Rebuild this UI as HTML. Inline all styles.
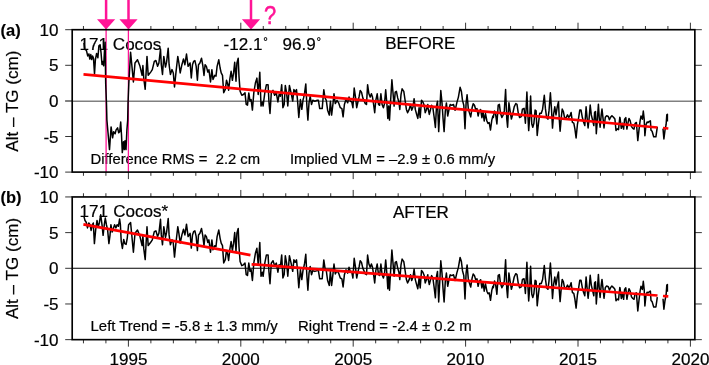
<!DOCTYPE html>
<html><head><meta charset="utf-8"><title>Alt - TG</title>
<style>html,body{margin:0;padding:0;background:#fff;}svg{display:block;will-change:transform}</style></head>
<body>
<svg width="709" height="365" viewBox="0 0 709 365" font-family='"Liberation Sans", sans-serif'>
<rect width="709" height="365" fill="#fff"/>
<line x1="72.2" y1="101.20" x2="694.85" y2="101.20" stroke="#808080" stroke-width="1.6"/>
<line x1="72.2" y1="268.25" x2="694.85" y2="268.25" stroke="#000" stroke-width="1.0"/>
<text transform="translate(79.4,50.1) scale(1.035,1)" font-size="16.5" text-anchor="start" font-weight="normal" fill="#000" stroke="#000" stroke-width="0.2" xml:space="preserve">171</text>
<text transform="translate(112.8,50.1) scale(1.035,1)" font-size="16.5" text-anchor="start" font-weight="normal" fill="#000" stroke="#000" stroke-width="0.2" xml:space="preserve">Cocos</text>
<text transform="translate(223.5,50.1) scale(1.035,1)" font-size="16.5" text-anchor="start" font-weight="normal" fill="#000" stroke="#000" stroke-width="0.2" xml:space="preserve">-12.1<tspan font-size="11" dx="0.8" dy="-5.2">°</tspan></text>
<text transform="translate(282.5,50.1) scale(1.035,1)" font-size="16.5" text-anchor="start" font-weight="normal" fill="#000" stroke="#000" stroke-width="0.2" xml:space="preserve">96.9<tspan font-size="11" dx="0.8" dy="-5.2">°</tspan></text>
<text transform="translate(385.2,49.3) scale(1.035,1)" font-size="16.5" text-anchor="start" font-weight="normal" fill="#000" stroke="#000" stroke-width="0.2" xml:space="preserve">BEFORE</text>
<text transform="translate(90.5,163.7) scale(1.007,1)" font-size="14.7" text-anchor="start" font-weight="normal" fill="#000" stroke="#000" stroke-width="0.2" xml:space="preserve">Difference RMS =  2.2 cm</text>
<text transform="translate(289.9,163.6) scale(1.007,1)" font-size="14.7" text-anchor="start" font-weight="normal" fill="#000" stroke="#000" stroke-width="0.2" xml:space="preserve">Implied VLM = –2.9 ± 0.6 mm/y</text>
<text transform="translate(79.4,217.4) scale(1.035,1)" font-size="16.5" text-anchor="start" font-weight="normal" fill="#000" stroke="#000" stroke-width="0.2" xml:space="preserve">171</text>
<text transform="translate(113.2,217.4) scale(1.035,1)" font-size="16.5" text-anchor="start" font-weight="normal" fill="#000" stroke="#000" stroke-width="0.2" xml:space="preserve">Cocos*</text>
<text transform="translate(392.9,217.55) scale(1.035,1)" font-size="16.5" text-anchor="start" font-weight="normal" fill="#000" stroke="#000" stroke-width="0.2" xml:space="preserve">AFTER</text>
<text transform="translate(90.6,331.0) scale(1.013,1)" font-size="14.7" text-anchor="start" font-weight="normal" fill="#000" stroke="#000" stroke-width="0.2" xml:space="preserve">Left Trend = -5.8 ± 1.3 mm/y</text>
<text transform="translate(298.1,331.0) scale(1.016,1)" font-size="14.7" text-anchor="start" font-weight="normal" fill="#000" stroke="#000" stroke-width="0.2" xml:space="preserve">Right Trend = -2.4 ± 0.2 m</text>
<line x1="106.1" y1="29.7" x2="106.1" y2="172.1" stroke="#ff1496" stroke-width="1.3"/>
<line x1="128.4" y1="29.7" x2="128.4" y2="172.1" stroke="#ff1496" stroke-width="1.3"/>
<path d="M84.0,42.8 L84.8,49.4 L86.4,50.3 L87.7,55.9 L88.9,54.0 L89.8,59.0 L90.8,54.6 L91.7,59.6 L92.6,55.9 L93.5,58.3 L94.5,73.9 L95.4,59.6 L96.6,53.4 L97.9,57.7 L98.9,45.9 L100.1,44.7 L101.1,53.4 L102.0,64.5 L102.8,61.4 L103.7,65.8 L104.6,48.4 L105.1,42.2 L105.7,84.0 L106.5,104.0 L106.9,120.0 L109.5,149.6 L111.1,126.9 L112.6,137.8 L113.6,131.8 L115.1,133.8 L116.1,129.9 L117.6,127.9 L118.7,132.8 L119.7,131.8 L120.7,122.0 L121.5,134.8 L122.3,152.6 L123.5,141.7 L124.3,149.6 L125.0,140.7 L126.0,149.6 L126.9,129.9 L127.7,120.0 L128.0,104.0 L128.8,84.0 L130.6,52.3 L133.4,81.9 L135.0,63.0 L137.5,59.7 L140.0,66.3 L142.1,75.3 L142.9,65.5 L143.8,78.6 L145.2,89.3 L147.0,56.4 L148.2,75.3 L150.7,72.1 L152.3,69.6 L154.3,61.4 L155.9,60.5 L157.6,66.3 L158.9,63.0 L160.5,49.0 L161.3,64.7 L162.5,74.5 L163.8,56.4 L165.5,67.1 L166.6,62.2 L168.2,48.2 L169.1,64.7 L170.4,74.5 L172.0,69.6 L173.3,72.9 L174.5,86.9 L176.1,71.2 L177.8,56.4 L178.9,63.0 L180.2,72.9 L181.9,64.7 L183.5,58.9 L184.9,64.7 L186.5,54.0 L188.1,66.3 L190.1,63.0 L191.3,77.9 L192.5,64.7 L193.6,61.4 L194.9,60.6 L196.2,66.4 L197.4,80.3 L198.5,64.7 L199.9,63.1 L201.5,58.2 L202.8,65.5 L204.0,75.4 L205.1,64.7 L206.4,66.4 L207.8,72.1 L208.9,69.7 L210.5,82.0 L211.9,69.7 L213.0,79.5 L214.7,75.4 L216.0,76.2 L217.1,66.4 L218.8,59.8 L220.1,68.0 L221.2,72.9 L222.5,75.4 L223.7,92.7 L225.3,89.4 L226.5,80.3 L227.8,84.5 L228.6,90.2 L229.9,78.7 L231.1,71.3 L232.4,80.3 L233.6,72.9 L234.7,62.3 L236.0,81.2 L236.9,63.1 L238.2,58.2 L239.0,76.4 L240.1,91.2 L241.8,95.3 L243.4,94.5 L245.0,92.9 L246.2,104.4 L247.5,105.2 L248.8,92.9 L250.0,101.1 L251.1,99.5 L252.4,110.1 L253.8,92.9 L255.4,83.0 L256.9,78.1 L258.2,94.5 L259.8,72.3 L261.0,106.0 L262.3,101.9 L263.1,106.0 L264.8,92.9 L266.4,84.7 L268.1,84.7 L268.9,101.1 L270.0,113.4 L271.3,92.9 L273.0,90.4 L274.6,95.3 L276.3,92.9 L277.9,101.9 L279.1,94.5 L280.4,96.2 L281.7,84.7 L282.9,107.7 L284.2,104.4 L285.3,85.5 L286.6,92.9 L287.8,106.0 L289.4,85.5 L291.1,92.9 L292.7,101.1 L293.9,89.6 L295.2,92.1 L296.5,89.6 L297.6,101.1 L298.8,117.5 L300.4,99.5 L301.8,109.3 L303.1,99.5 L303.6,97.9 L304.6,92.9 L305.8,83.9 L306.9,106.1 L307.9,120.1 L309.0,102.8 L310.2,96.2 L311.5,104.5 L312.8,100.3 L314.8,101.2 L317.3,100.3 L318.4,100.3 L319.7,108.6 L322.2,108.6 L323.8,89.7 L325.0,97.9 L326.3,100.3 L327.6,110.2 L329.3,115.1 L330.4,101.2 L331.6,115.1 L332.9,104.5 L334.0,93.8 L335.3,103.6 L337.0,100.3 L338.6,102.8 L340.3,107.7 L341.9,108.6 L343.1,116.8 L344.4,104.5 L346.0,99.5 L347.7,102.8 L349.0,97.1 L350.3,101.2 L351.8,102.0 L352.9,107.7 L354.2,88.0 L355.6,97.9 L356.7,107.7 L357.9,102.0 L359.2,96.2 L360.2,90.5 L361.5,92.1 L362.8,97.9 L365.3,103.6 L366.5,104.5 L367.6,84.7 L368.9,93.8 L370.2,97.1 L371.4,93.8 L372.5,97.1 L373.5,103.6 L374.7,112.7 L375.8,100.3 L377.2,93.8 L378.5,104.5 L379.6,105.3 L380.9,93.8 L382.1,104.5 L383.4,107.7 L384.5,103.6 L385.7,89.7 L387.0,105.3 L387.8,118.4 L388.7,106.1 L389.5,120.1 L390.6,101.2 L391.9,79.8 L393.3,96.2 L394.1,106.1 L395.2,92.1 L396.4,91.3 L397.7,97.9 L398.9,102.0 L399.8,109.4 L401.0,94.6 L402.1,88.8 L403.8,91.3 L405.1,100.3 L406.4,109.4 L407.6,112.7 L409.2,109.4 L410.5,104.5 L411.7,110.2 L413.0,106.9 L414.1,98.7 L415.3,109.4 L416.6,114.3 L417.8,118.4 L419.1,107.7 L420.2,117.6 L421.5,100.3 L422.9,102.0 L424.2,105.3 L425.2,112.7 L426.5,109.4 L427.8,104.5 L428.0,107.8 L429.3,114.4 L430.5,109.5 L431.6,105.3 L432.9,107.8 L434.2,117.7 L435.4,127.5 L436.5,106.2 L437.5,101.2 L438.7,131.6 L439.8,111.1 L440.8,90.5 L442.0,102.9 L443.1,119.3 L444.1,131.6 L445.3,111.1 L446.4,102.9 L447.7,116.0 L449.0,109.5 L450.2,104.5 L451.8,105.3 L453.5,104.5 L455.1,110.3 L456.8,102.9 L458.4,97.1 L460.1,87.3 L461.4,91.4 L462.5,100.4 L463.8,105.3 L465.0,128.7 L466.1,102.9 L467.1,94.7 L468.3,108.6 L469.4,112.7 L470.7,116.9 L472.1,107.8 L473.2,103.7 L474.5,105.3 L475.7,109.5 L477.0,108.6 L478.1,116.0 L479.3,111.1 L480.6,109.5 L481.9,117.7 L483.1,111.9 L484.2,121.0 L485.5,113.6 L486.9,121.0 L488.0,123.4 L489.2,122.6 L490.5,130.0 L491.8,120.1 L492.9,116.0 L493.3,117.5 L494.5,110.9 L495.6,114.2 L496.9,124.0 L498.2,105.1 L499.4,104.3 L500.5,113.3 L501.9,117.5 L503.2,115.0 L504.3,110.9 L505.6,89.5 L506.8,119.1 L507.6,127.3 L508.9,102.7 L510.1,110.9 L511.4,119.1 L512.5,115.0 L514.2,106.8 L515.8,103.5 L517.0,104.3 L518.3,113.3 L519.6,117.5 L521.3,116.6 L522.4,109.2 L524.1,108.4 L525.4,123.2 L526.9,92.0 L527.8,113.3 L528.7,130.6 L529.8,115.8 L530.6,96.1 L531.8,124.0 L532.8,127.3 L533.9,123.2 L535.1,110.1 L536.1,110.9 L537.2,135.5 L538.4,124.0 L539.7,113.3 L541.3,113.3 L542.6,109.2 L544.3,95.3 L545.4,108.4 L546.6,117.5 L547.9,119.1 L549.0,110.9 L550.4,92.8 L551.5,109.2 L552.5,128.1 L553.6,114.2 L554.8,106.8 L556.0,114.9 L557.3,106.7 L558.5,101.7 L559.3,119.8 L560.1,131.3 L561.3,117.3 L562.2,109.1 L563.4,111.6 L564.5,117.3 L565.9,118.2 L567.5,114.9 L568.8,117.3 L570.0,115.7 L571.1,112.4 L572.4,122.3 L573.8,123.1 L574.9,128.9 L576.1,137.9 L577.4,124.7 L578.7,117.3 L579.8,109.9 L581.0,109.9 L582.3,117.3 L583.6,122.3 L584.8,125.6 L586.1,106.7 L587.2,119.0 L588.1,128.0 L589.2,117.3 L590.2,105.0 L591.3,114.9 L592.5,119.8 L593.8,125.6 L594.6,112.4 L595.5,111.6 L596.3,133.8 L597.1,123.1 L598.4,104.2 L599.2,117.3 L600.1,127.2 L601.2,114.9 L602.0,109.1 L603.2,119.8 L604.0,128.0 L605.3,117.3 L606.6,115.7 L608.3,116.5 L609.4,119.8 L610.6,117.3 L611.9,115.7 L613.5,117.3 L614.9,119.0 L616.0,130.5 L617.2,128.9 L618.5,129.7 L619.8,117.3 L620.0,117.6 L621.3,128.3 L622.5,123.3 L623.6,129.1 L624.6,119.2 L625.8,117.6 L626.9,129.1 L627.9,123.3 L629.0,118.4 L630.2,120.9 L631.5,126.6 L632.8,128.3 L634.0,129.1 L635.1,123.3 L636.4,122.5 L637.8,140.6 L638.9,130.7 L640.1,120.9 L641.0,115.9 L642.4,119.2 L643.3,111.0 L644.2,119.2 L644.9,135.7 L646.0,124.7 L647.1,122.0 L648.2,122.5 L649.3,121.4 L650.4,120.9 L651.0,130.2 L652.1,131.3 L653.7,136.8 L655.9,136.8 L657.0,129.1 L657.3,126.9" fill="none" stroke="#000" stroke-width="1.5" stroke-linejoin="round"/>
<path d="M663.0,128.6 L663.9,139.0 L665.0,130.2 L666.1,124.7 L666.8,114.9 L667.4,114.3 L667.4,121.4" fill="none" stroke="#000" stroke-width="1.5" stroke-linejoin="round"/>
<path d="M83.9,216.4 L85.0,220.5 L86.2,222.2 L87.5,227.9 L88.8,223.0 L90.0,224.7 L91.1,230.4 L92.4,224.7 L93.3,223.0 L94.4,243.6 L95.7,229.6 L97.0,220.5 L98.2,227.1 L99.3,223.0 L100.7,214.8 L102.0,224.7 L103.1,235.3 L104.3,224.7 L105.3,218.1 L106.4,224.7 L107.6,229.6 L108.9,243.6 L110.0,235.3 L110.9,224.7 L112.2,232.1 L113.5,227.9 L114.6,224.7 L115.9,227.9 L117.1,224.7 L118.4,226.3 L119.6,218.9 L120.4,224.7 L121.2,241.1 L122.4,248.5 L123.7,239.5 L124.8,243.6 L126.1,244.4 L127.3,237.8 L128.6,224.7 L130.6,222.6 L133.4,252.2 L135.0,233.3 L137.5,230.0 L140.0,236.6 L142.1,245.6 L142.9,235.7 L143.8,248.9 L145.2,259.6 L147.0,226.7 L148.2,245.6 L150.7,242.3 L152.3,239.8 L154.3,231.6 L155.9,230.8 L157.6,236.6 L158.9,233.3 L160.5,219.3 L161.3,234.9 L162.5,244.8 L163.8,226.7 L165.5,237.4 L166.6,232.4 L168.2,218.5 L169.1,234.9 L170.4,244.8 L172.0,239.8 L173.3,243.1 L174.5,257.1 L176.1,241.5 L177.8,226.7 L178.9,233.3 L180.2,243.1 L181.9,234.9 L183.5,229.2 L184.9,234.9 L186.5,224.2 L188.1,236.6 L190.1,233.3 L191.3,248.1 L192.5,235.0 L193.6,231.7 L194.9,230.9 L196.2,236.6 L197.4,250.6 L198.5,235.0 L199.9,233.3 L201.5,228.4 L202.8,235.8 L204.0,245.7 L205.1,235.0 L206.4,236.6 L207.8,242.4 L208.9,239.9 L210.5,252.2 L211.9,239.9 L213.0,249.8 L214.7,245.7 L216.0,246.5 L217.1,236.6 L218.8,230.0 L220.1,238.3 L221.2,243.2 L222.5,245.7 L223.7,262.9 L225.3,259.6 L226.5,250.6 L227.8,254.7 L228.6,260.5 L229.9,249.0 L231.1,241.6 L232.4,250.6 L233.6,243.2 L234.7,232.5 L236.0,251.4 L236.9,233.3 L238.2,228.4 L239.0,246.7 L240.1,261.5 L241.8,265.6 L243.4,264.8 L245.0,263.1 L246.2,274.6 L247.5,275.5 L248.8,263.1 L250.0,271.3 L251.1,269.7 L252.4,280.4 L253.8,263.1 L255.4,253.3 L256.9,248.3 L258.2,264.8 L259.8,242.6 L261.0,276.3 L262.3,272.2 L263.1,276.3 L264.8,263.1 L266.4,254.9 L268.1,254.9 L268.9,271.3 L270.0,283.7 L271.3,263.1 L273.0,260.7 L274.6,265.6 L276.3,263.1 L277.9,272.2 L279.1,264.8 L280.4,266.4 L281.7,254.9 L282.9,277.9 L284.2,274.6 L285.3,255.7 L286.6,263.1 L287.8,276.3 L289.4,255.7 L291.1,263.1 L292.7,271.3 L293.9,259.8 L295.2,262.3 L296.5,259.8 L297.6,271.3 L298.8,287.8 L300.4,269.7 L301.8,279.6 L303.1,269.7 L303.6,268.1 L304.6,263.2 L305.8,254.2 L306.9,276.3 L307.9,290.3 L309.0,273.1 L310.2,266.5 L311.5,274.7 L312.8,270.6 L314.8,271.4 L317.3,270.6 L318.4,270.6 L319.7,278.8 L322.2,278.8 L323.8,259.9 L325.0,268.1 L326.3,270.6 L327.6,280.5 L329.3,285.4 L330.4,271.4 L331.6,285.4 L332.9,274.7 L334.0,264.0 L335.3,273.9 L337.0,270.6 L338.6,273.1 L340.3,278.0 L341.9,278.8 L343.1,287.0 L344.4,274.7 L346.0,269.8 L347.7,273.1 L349.0,267.3 L350.3,271.4 L351.8,272.2 L352.9,278.0 L354.2,258.3 L355.6,268.1 L356.7,278.0 L357.9,272.2 L359.2,266.5 L360.2,260.7 L361.5,262.4 L362.8,268.1 L365.3,273.9 L366.5,274.7 L367.6,255.0 L368.9,264.0 L370.2,267.3 L371.4,264.0 L372.5,267.3 L373.5,273.9 L374.7,282.9 L375.8,270.6 L377.2,264.0 L378.5,274.7 L379.6,275.5 L380.9,264.0 L382.1,274.7 L383.4,278.0 L384.5,273.9 L385.7,259.9 L387.0,275.5 L387.8,288.7 L388.7,276.3 L389.5,290.3 L390.6,271.4 L391.9,250.0 L393.3,266.5 L394.1,276.3 L395.2,262.4 L396.4,261.6 L397.7,268.1 L398.9,272.2 L399.8,279.6 L401.0,264.8 L402.1,259.1 L403.8,261.6 L405.1,270.6 L406.4,279.6 L407.6,282.9 L409.2,279.6 L410.5,274.7 L411.7,280.5 L413.0,277.2 L414.1,269.0 L415.3,279.6 L416.6,284.6 L417.8,288.7 L419.1,278.0 L420.2,287.9 L421.5,270.6 L422.9,272.2 L424.2,275.5 L425.2,282.9 L426.5,279.6 L427.8,274.7 L428.0,278.1 L429.3,284.6 L430.5,279.7 L431.6,275.6 L432.9,278.1 L434.2,287.9 L435.4,297.8 L436.5,276.4 L437.5,271.5 L438.7,301.9 L439.8,281.3 L440.8,260.8 L442.0,273.1 L443.1,289.6 L444.1,301.9 L445.3,281.3 L446.4,273.1 L447.7,286.3 L449.0,279.7 L450.2,274.8 L451.8,275.6 L453.5,274.8 L455.1,280.5 L456.8,273.1 L458.4,267.4 L460.1,257.5 L461.4,261.6 L462.5,270.7 L463.8,275.6 L465.0,298.9 L466.1,273.1 L467.1,264.9 L468.3,278.9 L469.4,283.0 L470.7,287.1 L472.1,278.1 L473.2,274.0 L474.5,275.6 L475.7,279.7 L477.0,278.9 L478.1,286.3 L479.3,281.3 L480.6,279.7 L481.9,287.9 L483.1,282.2 L484.2,291.2 L485.5,283.8 L486.9,291.2 L488.0,293.7 L489.2,292.9 L490.5,300.3 L491.8,290.4 L492.9,286.3 L493.3,287.7 L494.5,281.1 L495.6,284.4 L496.9,294.3 L498.2,275.4 L499.4,274.6 L500.5,283.6 L501.9,287.7 L503.2,285.2 L504.3,281.1 L505.6,259.8 L506.8,289.3 L507.6,297.6 L508.9,272.9 L510.1,281.1 L511.4,289.3 L512.5,285.2 L514.2,277.0 L515.8,273.7 L517.0,274.6 L518.3,283.6 L519.6,287.7 L521.3,286.9 L522.4,279.5 L524.1,278.7 L525.4,293.5 L526.9,262.2 L527.8,283.6 L528.7,300.9 L529.8,286.1 L530.6,266.3 L531.8,294.3 L532.8,297.6 L533.9,293.5 L535.1,280.3 L536.1,281.1 L537.2,305.8 L538.4,294.3 L539.7,283.6 L541.3,283.6 L542.6,279.5 L544.3,265.5 L545.4,278.7 L546.6,287.7 L547.9,289.3 L549.0,281.1 L550.4,263.0 L551.5,279.5 L552.5,298.4 L553.6,284.4 L554.8,277.0 L556.0,285.1 L557.3,276.9 L558.5,272.0 L559.3,290.1 L560.1,301.6 L561.3,287.6 L562.2,279.4 L563.4,281.8 L564.5,287.6 L565.9,288.4 L567.5,285.1 L568.8,287.6 L570.0,286.0 L571.1,282.7 L572.4,292.5 L573.8,293.3 L574.9,299.1 L576.1,308.1 L577.4,295.0 L578.7,287.6 L579.8,280.2 L581.0,280.2 L582.3,287.6 L583.6,292.5 L584.8,295.8 L586.1,276.9 L587.2,289.2 L588.1,298.3 L589.2,287.6 L590.2,275.3 L591.3,285.1 L592.5,290.1 L593.8,295.8 L594.6,282.7 L595.5,281.8 L596.3,304.0 L597.1,293.3 L598.4,274.4 L599.2,287.6 L600.1,297.5 L601.2,285.1 L602.0,279.4 L603.2,290.1 L604.0,298.3 L605.3,287.6 L606.6,286.0 L608.3,286.8 L609.4,290.1 L610.6,287.6 L611.9,286.0 L613.5,287.6 L614.9,289.2 L616.0,300.7 L617.2,299.1 L618.5,299.9 L619.8,287.6 L620.0,287.8 L621.3,298.5 L622.5,293.6 L623.6,299.3 L624.6,289.5 L625.8,287.8 L626.9,299.3 L627.9,293.6 L629.0,288.7 L630.2,291.1 L631.5,296.9 L632.8,298.5 L634.0,299.3 L635.1,293.6 L636.4,292.8 L637.8,310.9 L638.9,301.0 L640.1,291.1 L641.0,286.2 L642.4,289.5 L643.3,281.3 L644.2,289.5 L644.9,305.9 L646.0,295.0 L647.1,292.2 L648.2,292.8 L649.3,291.7 L650.4,291.1 L651.0,300.5 L652.1,301.6 L653.7,307.0 L655.9,307.0 L657.0,299.4 L657.3,297.2" fill="none" stroke="#000" stroke-width="1.5" stroke-linejoin="round"/>
<path d="M663.0,298.8 L663.9,309.2 L665.0,300.5 L666.1,295.0 L666.8,285.1 L667.4,284.6 L667.4,291.7" fill="none" stroke="#000" stroke-width="1.5" stroke-linejoin="round"/>
<line x1="83.5" y1="74.3" x2="657.5" y2="127.5" stroke="#ff0000" stroke-width="2.75"/>
<line x1="663" y1="128.0" x2="668.3" y2="128.5" stroke="#ff0000" stroke-width="2.75"/>
<line x1="83.4" y1="224.3" x2="250.5" y2="255.1" stroke="#ff0000" stroke-width="2.75"/>
<line x1="251.6" y1="264.3" x2="657.5" y2="295.5" stroke="#ff0000" stroke-width="2.75"/>
<line x1="663" y1="296.0" x2="668.3" y2="296.4" stroke="#ff0000" stroke-width="2.75"/>
<path d="M83.44,29.7v-3.7M83.44,172.1v3.7M105.92,29.7v-3.7M105.92,172.1v3.7M128.40,29.7v-7.0M128.40,172.1v7.0M150.88,29.7v-3.7M150.88,172.1v3.7M173.36,29.7v-3.7M173.36,172.1v3.7M195.84,29.7v-3.7M195.84,172.1v3.7M218.32,29.7v-3.7M218.32,172.1v3.7M240.80,29.7v-7.0M240.80,172.1v7.0M263.28,29.7v-3.7M263.28,172.1v3.7M285.76,29.7v-3.7M285.76,172.1v3.7M308.24,29.7v-3.7M308.24,172.1v3.7M330.72,29.7v-3.7M330.72,172.1v3.7M353.20,29.7v-7.0M353.20,172.1v7.0M375.68,29.7v-3.7M375.68,172.1v3.7M398.16,29.7v-3.7M398.16,172.1v3.7M420.64,29.7v-3.7M420.64,172.1v3.7M443.12,29.7v-3.7M443.12,172.1v3.7M465.60,29.7v-7.0M465.60,172.1v7.0M488.08,29.7v-3.7M488.08,172.1v3.7M510.56,29.7v-3.7M510.56,172.1v3.7M533.04,29.7v-3.7M533.04,172.1v3.7M555.52,29.7v-3.7M555.52,172.1v3.7M578.00,29.7v-7.0M578.00,172.1v7.0M600.48,29.7v-3.7M600.48,172.1v3.7M622.96,29.7v-3.7M622.96,172.1v3.7M645.44,29.7v-3.7M645.44,172.1v3.7M667.92,29.7v-3.7M667.92,172.1v3.7M690.40,29.7v-7.0M690.40,172.1v7.0M72.2,172.10h-7M694.85,172.10h7M72.2,136.50h-7M694.85,136.50h7M72.2,100.90h-7M694.85,100.90h7M72.2,65.30h-7M694.85,65.30h7M72.2,29.70h-7M694.85,29.70h7" stroke="#000" stroke-width="0.8" fill="none"/>
<path d="M83.44,196.95v-3.7M83.44,339.65v3.7M105.92,196.95v-3.7M105.92,339.65v3.7M128.40,196.95v-7.0M128.40,339.65v7.0M150.88,196.95v-3.7M150.88,339.65v3.7M173.36,196.95v-3.7M173.36,339.65v3.7M195.84,196.95v-3.7M195.84,339.65v3.7M218.32,196.95v-3.7M218.32,339.65v3.7M240.80,196.95v-7.0M240.80,339.65v7.0M263.28,196.95v-3.7M263.28,339.65v3.7M285.76,196.95v-3.7M285.76,339.65v3.7M308.24,196.95v-3.7M308.24,339.65v3.7M330.72,196.95v-3.7M330.72,339.65v3.7M353.20,196.95v-7.0M353.20,339.65v7.0M375.68,196.95v-3.7M375.68,339.65v3.7M398.16,196.95v-3.7M398.16,339.65v3.7M420.64,196.95v-3.7M420.64,339.65v3.7M443.12,196.95v-3.7M443.12,339.65v3.7M465.60,196.95v-7.0M465.60,339.65v7.0M488.08,196.95v-3.7M488.08,339.65v3.7M510.56,196.95v-3.7M510.56,339.65v3.7M533.04,196.95v-3.7M533.04,339.65v3.7M555.52,196.95v-3.7M555.52,339.65v3.7M578.00,196.95v-7.0M578.00,339.65v7.0M600.48,196.95v-3.7M600.48,339.65v3.7M622.96,196.95v-3.7M622.96,339.65v3.7M645.44,196.95v-3.7M645.44,339.65v3.7M667.92,196.95v-3.7M667.92,339.65v3.7M690.40,196.95v-7.0M690.40,339.65v7.0M72.2,339.65h-7M694.85,339.65h7M72.2,303.97h-7M694.85,303.97h7M72.2,268.30h-7M694.85,268.30h7M72.2,232.62h-7M694.85,232.62h7M72.2,196.95h-7M694.85,196.95h7" stroke="#000" stroke-width="0.8" fill="none"/>
<path d="M65.2,101.20H72.2M694.85,101.20H701.85" stroke="#808080" stroke-width="1.6"/>
<path d="M104.85,0H107.35V20H104.85Z M97.0,19.3H115.19999999999999L106.1,29.6Z" fill="#ff1496"/>
<path d="M127.25,0H129.75V20H127.25Z M119.4,19.3H137.6L128.5,29.6Z" fill="#ff1496"/>
<path d="M249.75,0H252.25V20H249.75Z M241.9,19.3H260.1L251.0,29.6Z" fill="#ff1496"/>
<rect x="72.2" y="29.7" width="622.65" height="142.4" fill="none" stroke="#000" stroke-width="1.65"/>
<rect x="72.2" y="196.95" width="622.65" height="142.7" fill="none" stroke="#000" stroke-width="1.65"/>
<text transform="translate(58.6,178.2) scale(1.035,1)" font-size="16.5" text-anchor="end" font-weight="normal" fill="#000" stroke="#000" stroke-width="0.2" xml:space="preserve">-10</text>
<text transform="translate(58.6,142.6) scale(1.035,1)" font-size="16.5" text-anchor="end" font-weight="normal" fill="#000" stroke="#000" stroke-width="0.2" xml:space="preserve">-5</text>
<text transform="translate(58.6,107.0) scale(1.035,1)" font-size="16.5" text-anchor="end" font-weight="normal" fill="#000" stroke="#000" stroke-width="0.2" xml:space="preserve">0</text>
<text transform="translate(58.6,71.4) scale(1.035,1)" font-size="16.5" text-anchor="end" font-weight="normal" fill="#000" stroke="#000" stroke-width="0.2" xml:space="preserve">5</text>
<text transform="translate(58.6,35.8) scale(1.035,1)" font-size="16.5" text-anchor="end" font-weight="normal" fill="#000" stroke="#000" stroke-width="0.2" xml:space="preserve">10</text>
<text transform="translate(17.8,101.1) rotate(-90) scale(1.035,1)" font-size="16.5" text-anchor="middle" stroke="#000" stroke-width="0.2">Alt – TG (cm)</text>
<text transform="translate(58.6,345.8) scale(1.035,1)" font-size="16.5" text-anchor="end" font-weight="normal" fill="#000" stroke="#000" stroke-width="0.2" xml:space="preserve">-10</text>
<text transform="translate(58.6,310.1) scale(1.035,1)" font-size="16.5" text-anchor="end" font-weight="normal" fill="#000" stroke="#000" stroke-width="0.2" xml:space="preserve">-5</text>
<text transform="translate(58.6,274.4) scale(1.035,1)" font-size="16.5" text-anchor="end" font-weight="normal" fill="#000" stroke="#000" stroke-width="0.2" xml:space="preserve">0</text>
<text transform="translate(58.6,238.7) scale(1.035,1)" font-size="16.5" text-anchor="end" font-weight="normal" fill="#000" stroke="#000" stroke-width="0.2" xml:space="preserve">5</text>
<text transform="translate(58.6,203.0) scale(1.035,1)" font-size="16.5" text-anchor="end" font-weight="normal" fill="#000" stroke="#000" stroke-width="0.2" xml:space="preserve">10</text>
<text transform="translate(17.8,268.5) rotate(-90) scale(1.035,1)" font-size="16.5" text-anchor="middle" stroke="#000" stroke-width="0.2">Alt – TG (cm)</text>
<text transform="translate(0.5,35.6) scale(1.0,1)" font-size="16.5" text-anchor="start" font-weight="bold" fill="#000" stroke="#000" stroke-width="0.15" xml:space="preserve">(a)</text>
<text transform="translate(0.5,203.1) scale(1.0,1)" font-size="16.5" text-anchor="start" font-weight="bold" fill="#000" stroke="#000" stroke-width="0.15" xml:space="preserve">(b)</text>
<text transform="translate(128.4,364.5) scale(1.035,1)" font-size="16.5" text-anchor="middle" font-weight="normal" fill="#000" stroke="#000" stroke-width="0.2" xml:space="preserve">1995</text>
<text transform="translate(240.8,364.5) scale(1.035,1)" font-size="16.5" text-anchor="middle" font-weight="normal" fill="#000" stroke="#000" stroke-width="0.2" xml:space="preserve">2000</text>
<text transform="translate(353.2,364.5) scale(1.035,1)" font-size="16.5" text-anchor="middle" font-weight="normal" fill="#000" stroke="#000" stroke-width="0.2" xml:space="preserve">2005</text>
<text transform="translate(465.6,364.5) scale(1.035,1)" font-size="16.5" text-anchor="middle" font-weight="normal" fill="#000" stroke="#000" stroke-width="0.2" xml:space="preserve">2010</text>
<text transform="translate(578.0,364.5) scale(1.035,1)" font-size="16.5" text-anchor="middle" font-weight="normal" fill="#000" stroke="#000" stroke-width="0.2" xml:space="preserve">2015</text>
<text transform="translate(690.4,364.5) scale(1.035,1)" font-size="16.5" text-anchor="middle" font-weight="normal" fill="#000" stroke="#000" stroke-width="0.2" xml:space="preserve">2020</text>
<text transform="translate(264.1,23.7) scale(0.86,1)" font-size="25.4" fill="#ff1496" stroke="#ff1496" stroke-width="0.55">?</text>
</svg>
</body></html>
